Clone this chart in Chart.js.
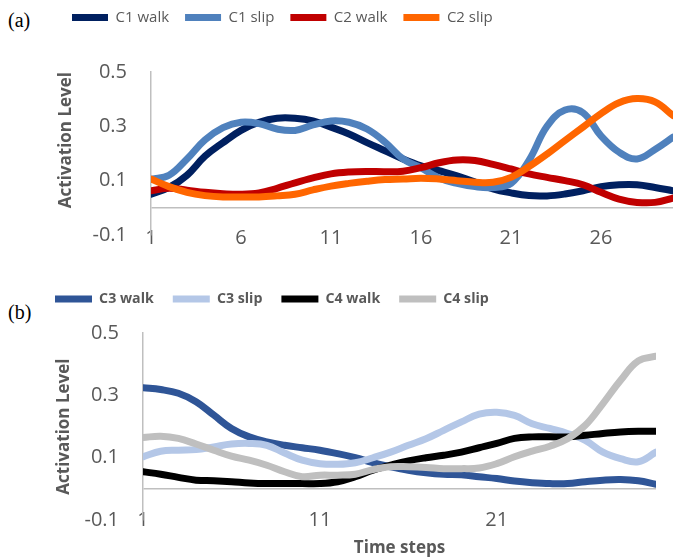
<!DOCTYPE html>
<html>
<head>
<meta charset="utf-8">
<script src="https://cdn.jsdelivr.net/npm/chart.js@4.4.0/dist/chart.umd.min.js"></script>
<style>
  body { margin: 0; background: #fff; width: 681px; height: 560px; position: relative; overflow: hidden; }
  .panel { position: absolute; left: 0; width: 681px; }
  .tag { position: absolute; left: 8px; font-family: "Liberation Serif", serif; font-size: 20px; color: #000; line-height: 24px; }
</style>
</head>
<body>
<div class="tag" style="top:8px">(a)</div>
<div class="panel" style="top:-6px;height:262px"><canvas id="chart-a"></canvas></div>
<div class="tag" style="top:300px">(b)</div>
<div class="panel" style="top:273px;height:287px"><canvas id="chart-b"></canvas></div>
<script>
// Time steps (x categories)
const steps = ['1','2','3','4','5','6','7','8','9','10','11','12','13','14','15',
               '16','17','18','19','20','21','22','23','24','25','26','27','28','29','30'];
// y tick values (0 only carries the baseline)
const yTicks = [-0.1, 0, 0.1, 0.3, 0.5];

// Panel (a)
const namesA = ['C1 walk', 'C1 slip', 'C2 walk', 'C2 slip'];
const c1Walk = [0.05, 0.075, 0.12, 0.19, 0.24, 0.285, 0.315, 0.33, 0.33, 0.32,
                0.297, 0.272, 0.24, 0.21, 0.18, 0.155, 0.137, 0.118, 0.095, 0.07,
                0.055, 0.045, 0.044, 0.051, 0.063, 0.078, 0.085, 0.085, 0.075, 0.063];
const c1Slip = [0.105, 0.12, 0.18, 0.25, 0.295, 0.315, 0.31, 0.29, 0.285, 0.305,
                0.32, 0.315, 0.29, 0.242, 0.18, 0.147, 0.11, 0.09, 0.078, 0.075,
                0.09, 0.175, 0.30, 0.36, 0.35, 0.265, 0.205, 0.18, 0.215, 0.26];
const c2Walk = [0.063, 0.072, 0.065, 0.057, 0.052, 0.05, 0.055, 0.072, 0.092, 0.11,
                0.125, 0.132, 0.134, 0.133, 0.135, 0.148, 0.166, 0.176, 0.174, 0.16,
                0.143, 0.125, 0.112, 0.1, 0.085, 0.057, 0.032, 0.02, 0.02, 0.036];
const c2Slip = [0.106, 0.078, 0.057, 0.045, 0.04, 0.04, 0.04, 0.044, 0.05, 0.066,
                0.08, 0.09, 0.098, 0.104, 0.106, 0.109, 0.106, 0.1, 0.094, 0.094,
                0.112, 0.152, 0.198, 0.248, 0.297, 0.347, 0.387, 0.402, 0.39, 0.34];
const colorsA = ['#002060', '#4F81BD', '#C00000', '#FF6600'];

// Panel (b)
const namesB = ['C3 walk', 'C3 slip', 'C4 walk', 'C4 slip'];
const c3Walk = [0.325, 0.319, 0.307, 0.28, 0.237, 0.194, 0.167, 0.151, 0.14, 0.132,
                0.124, 0.113, 0.1, 0.084, 0.071, 0.06, 0.052, 0.047, 0.045, 0.039,
                0.033, 0.025, 0.02, 0.017, 0.017, 0.023, 0.028, 0.03, 0.026, 0.015];
const c3Slip = [0.103, 0.121, 0.124, 0.126, 0.135, 0.144, 0.146, 0.14, 0.115, 0.092,
                0.081, 0.079, 0.084, 0.1, 0.118, 0.14, 0.161, 0.188, 0.215, 0.24,
                0.246, 0.236, 0.209, 0.194, 0.178, 0.156, 0.118, 0.097, 0.087, 0.118];
const c4Walk = [0.055, 0.047, 0.037, 0.028, 0.026, 0.023, 0.019, 0.017, 0.017, 0.017,
                0.017, 0.023, 0.039, 0.06, 0.076, 0.09, 0.1, 0.108, 0.118, 0.132,
                0.146, 0.162, 0.167, 0.167, 0.167, 0.172, 0.178, 0.183, 0.185, 0.185];
const c4Slip = [0.165, 0.169, 0.162, 0.144, 0.124, 0.105, 0.092, 0.076, 0.055, 0.039,
                0.044, 0.044, 0.047, 0.062, 0.071, 0.071, 0.069, 0.065, 0.065, 0.067,
                0.081, 0.103, 0.121, 0.137, 0.161, 0.204, 0.274, 0.349, 0.411, 0.426];
const colorsB = ['#2F5597', '#B4C7E7', '#000000', '#BFBFBF'];

Chart.defaults.font.family = '"Open Sans", sans-serif';
Chart.defaults.color = '#595959';

// Push the plot area down from the legend
function legendSpacer(extra) {
  return {
    id: 'legendSpacer',
    beforeInit(chart) {
      const fit = chart.legend.fit;
      chart.legend.fit = function () {
        fit.bind(chart.legend)();
        this.height += extra;
      };
    }
  };
}

function buildDatasets(names, values, colors) {
  return names.map((label, i) => ({
    label,
    data: values[i],
    borderColor: colors[i],
    backgroundColor: colors[i],
    borderWidth: 7,
    borderCapStyle: 'round',
    borderJoinStyle: 'round',
    pointRadius: 0,
    tension: 0.4,
    fill: false,
    clip: 0,
    order: names.length - i   // later series on top, like Excel
  }));
}

function makeChart(id, cfg) {
  return new Chart(document.getElementById(id), {
    type: 'line',
    data: { labels: steps, datasets: buildDatasets(cfg.names, cfg.values, cfg.colors) },
    options: {
      responsive: true,
      maintainAspectRatio: false,
      animation: false,
      layout: { padding: cfg.padding },
      plugins: {
        legend: {
          position: 'top',
          align: 'start',
          labels: {
            usePointStyle: true,
            pointStyle: 'line',
            pointStyleWidth: cfg.swatch,
            padding: cfg.legendPadding,
            font: cfg.legendFont,
            color: '#595959',
            sort: (a, b) => a.datasetIndex - b.datasetIndex
          }
        },
        tooltip: { enabled: false }
      },
      scales: {
        x: {
          grid: { display: false, drawTicks: false },
          border: { display: false },
          ticks: {
            autoSkip: false,
            maxRotation: 0,
            mirror: true,          // labels sit on the plot's bottom edge, Excel "low" style
            padding: cfg.xPad,
            font: { size: 20, lineHeight: 1.2 },
            callback: (v, i) => (i % cfg.every === 0 ? steps[i] : '')
          },
          title: cfg.xTitle,
          afterFit: s => { s.height = cfg.xHeight; }
        },
        y: {
          min: -0.1,
          max: 0.5,
          afterBuildTicks: s => { s.ticks = yTicks.map(value => ({ value })); },
          grid: {
            drawTicks: false,
            lineWidth: 1.5,
            color: c => (c.tick && c.tick.value === 0 ? '#BFBFBF' : 'rgba(0,0,0,0)')
          },
          border: { color: '#BFBFBF', width: 1.5 },
          ticks: {
            padding: 24,
            font: { size: 20 },
            callback: v => (v === 0 ? '' : String(v))
          },
          title: {
            display: true,
            text: 'Activation Level',
            align: cfg.yAlign,
            padding: { top: cfg.yTitlePad, bottom: 0 },
            font: { size: 17, weight: 'bold' }
          },
          afterFit: s => {
            s.width = cfg.yWidth;
            s.paddingTop = 12;
            s.paddingBottom = 12;
          }
        }
      }
    },
    plugins: [legendSpacer(cfg.legendExtra)]
  });
}

makeChart('chart-a', {
  names: namesA,
  values: [c1Walk, c1Slip, c2Walk, c2Slip],
  colors: colorsA,
  padding: { left: 56, top: 0, right: 8, bottom: 0 },
  swatch: 36,
  legendPadding: 16,
  legendFont: { size: 15 },
  legendExtra: 37,
  xPad: -15,
  xHeight: 21,
  every: 5,
  xTitle: { display: false },
  yAlign: 'end',
  yTitlePad: 0,
  yWidth: 95
});

makeChart('chart-b', {
  names: namesB,
  values: [c3Walk, c3Slip, c4Walk, c4Slip],
  colors: colorsB,
  padding: { left: 36, top: 0, right: 25, bottom: 0 },
  swatch: 37,
  legendPadding: 19,
  legendFont: { size: 14.2, weight: 'bold' },
  legendExtra: 17,
  xPad: -12,
  xHeight: 40,
  every: 10,
  xTitle: {
    display: true,
    text: 'Time steps',
    padding: { top: 0, bottom: 2 },
    font: { size: 17, weight: 'bold' }
  },
  yAlign: 'center',
  yTitlePad: 18,
  yWidth: 107
});
</script>
</body>
</html>
